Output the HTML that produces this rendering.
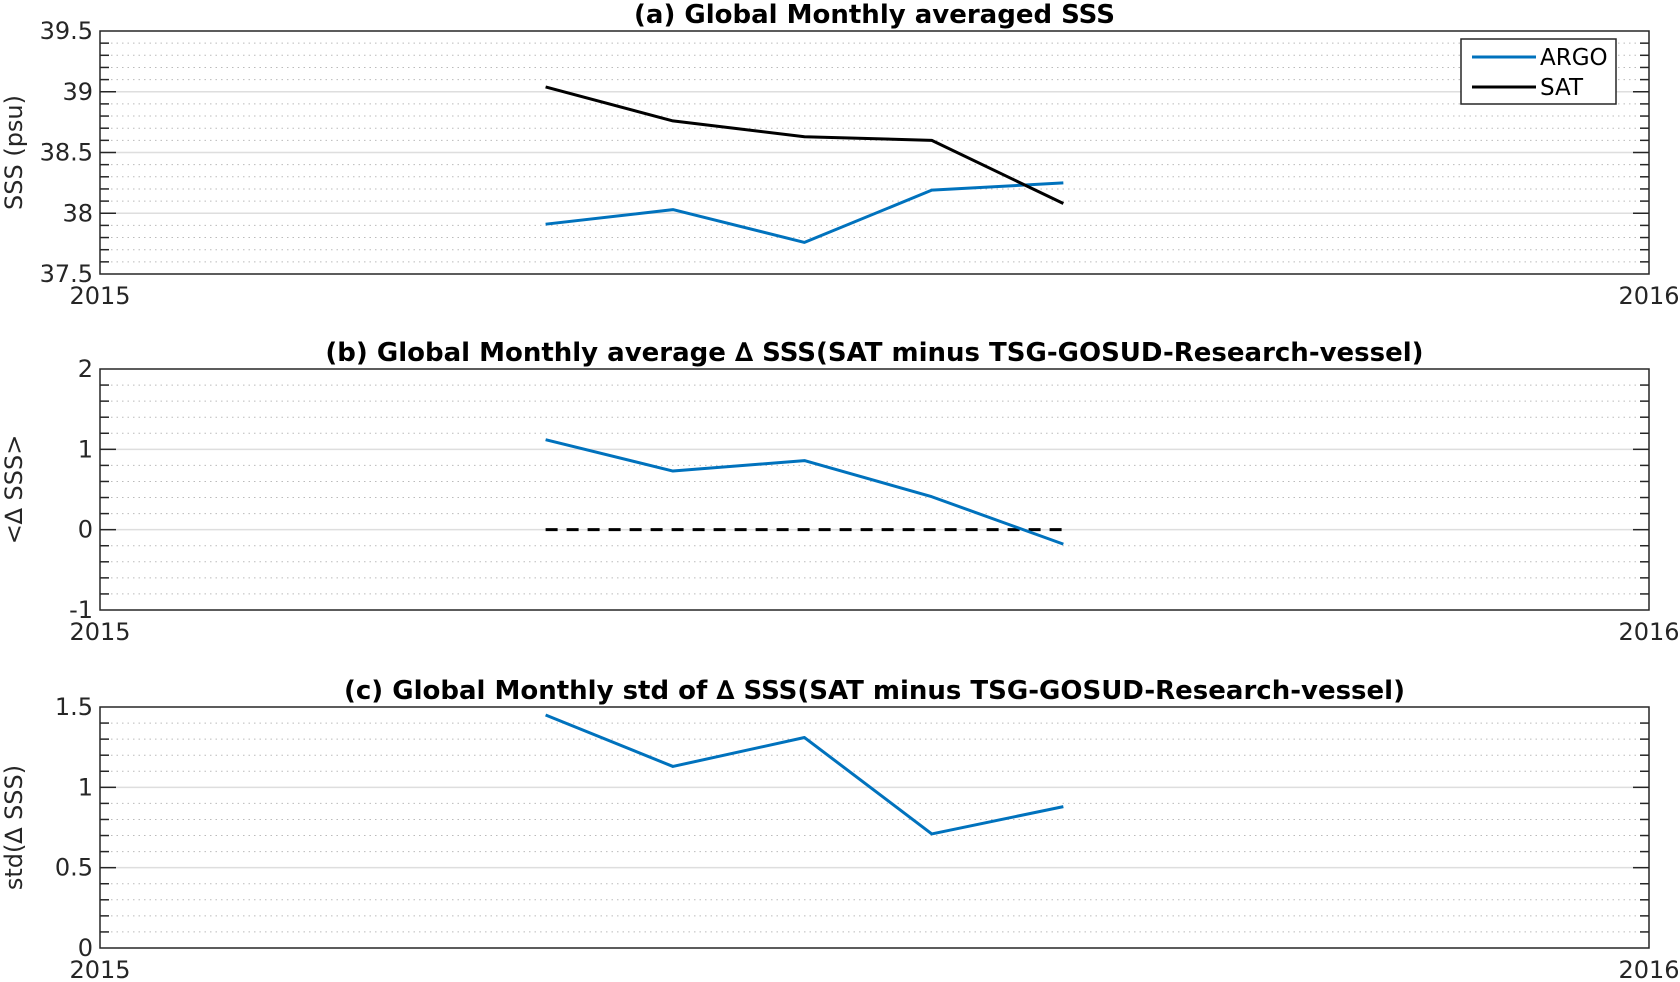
<!DOCTYPE html>
<html><head><meta charset="utf-8"><style>
html,body{margin:0;padding:0;background:#fff;}
svg{display:block;font-family:"DejaVu Sans","Liberation Sans",sans-serif;}
</style></head><body>
<svg id="fig" width="1680" height="982" viewBox="0 0 1680 982"></svg>
<script>
const days = [105, 135, 166, 196, 227];
const argoSSS = [37.91, 38.03, 37.76, 38.19, 38.25];
const satSSS = [39.04, 38.76, 38.63, 38.60, 38.08];
const deltaSSS = [1.12, 0.73, 0.86, 0.41, -0.18];
const zeroRef = [0, 0, 0, 0, 0];
const stdSSS = [1.45, 1.13, 1.31, 0.71, 0.88];
const ticksA = [37.5, 38, 38.5, 39, 39.5];
const labelsA = ["37.5", "38", "38.5", "39", "39.5"];
const ticksB = [-1, 0, 1, 2];
const labelsB = ["-1", "0", "1", "2"];
const ticksC = [0, 0.5, 1, 1.5];
const labelsC = ["0", "0.5", "1", "1.5"];
const xLabels = ["2015", "2016"];

const NS = "http://www.w3.org/2000/svg";
const svg = document.getElementById('fig');
const L = 100, R = 1649, XMAX = 365;
function mk(tag, attrs, parent) {
  const e = document.createElementNS(NS, tag);
  for (const k in attrs) e.setAttribute(k, attrs[k]);
  (parent || svg).appendChild(e);
  return e;
}
function xs(d) { return L + d / XMAX * (R - L); }

function panel(opt) {
  const g = mk('g', {});
  
  
  const ys = v => opt.bot - (v - opt.min) / (opt.max - opt.min) * (opt.bot - opt.top);
  for (let v = opt.min + opt.minor; v < opt.max - 1e-9; v += opt.minor) {
    const isMajor = opt.ticks.some(t => Math.abs(t - v) < 1e-6);
    const y = ys(v);
    if (isMajor) {
      const l = mk('line', {x1: L, x2: R, y1: y, y2: y, stroke: '#dedede', 'stroke-width': 1.5}, g);
      
      
      mk('line', {x1: L, x2: L + 16, y1: y, y2: y, stroke: '#262626', 'stroke-width': 1.5}, g);
      mk('line', {x1: R - 16, x2: R, y1: y, y2: y, stroke: '#262626', 'stroke-width': 1.5}, g);
    } else {
      const l = mk('line', {x1: L, x2: R, y1: y, y2: y, stroke: '#bbb', 'stroke-width': 1, 'stroke-dasharray': '1.5,4'}, g);
      
      
      mk('line', {x1: L, x2: L + 9, y1: y, y2: y, stroke: '#262626', 'stroke-width': 1.5}, g);
      mk('line', {x1: R - 9, x2: R, y1: y, y2: y, stroke: '#262626', 'stroke-width': 1.5}, g);
    }
  }
  opt.ticks.forEach((t, i) => {
    const tx = mk('text', {x: L - 7, y: ys(t) + 8, 'text-anchor': 'end', 'font-size': 24, fill: '#262626'}, g);
    tx.textContent = opt.labels[i];
    
    
  });
  xLabels.forEach((lab, i) => {
    const tx = mk('text', {x: i === 0 ? L : R, y: opt.bot + 30, 'text-anchor': 'middle', 'font-size': 24, fill: '#262626'}, g);
    tx.textContent = lab;
    
    
  });
  opt.series.forEach(s => {
    const pts = s.vals.map((v, i) => xs(days[i]) + ',' + ys(v)).join(' ');
    const p = mk('polyline', {points: pts, fill: 'none', stroke: s.color, 'stroke-width': 3, 'stroke-linejoin': 'round'}, g);
    if (s.dash) p.setAttribute('stroke-dasharray', '12,9');
    
    
  });
  const box = mk('rect', {x: L, y: opt.top, width: R - L, height: opt.bot - opt.top, fill: 'none', stroke: '#262626', 'stroke-width': 1.5}, g);
  
  
  const ti = mk('text', {x: (L + R) / 2, y: opt.top - 8, 'text-anchor': 'middle', 'font-size': 26, 'font-weight': 'bold', fill: '#000'}, g);
  ti.textContent = opt.title;
  
  
  const cy = (opt.top + opt.bot) / 2;
  const yl = mk('text', {x: 0, y: 0, 'text-anchor': 'middle', 'font-size': 24, fill: '#262626', transform: 'translate(22,' + cy + ') rotate(-90)'}, g);
  yl.textContent = opt.ylabel;
  
  
}

panel({name: 'panel-a', top: 31, bot: 274, min: 37.5, max: 39.5, minor: 0.1, ticks: ticksA, labels: labelsA,
  title: '(a) Global Monthly averaged SSS', ylabel: 'SSS (psu)',
  series: [{vals: argoSSS, color: '#0072bd', name: 'argo-line'}, {vals: satSSS, color: '#000', name: 'sat-line'}]});
panel({name: 'panel-b', top: 369, bot: 610, min: -1, max: 2, minor: 0.2, ticks: ticksB, labels: labelsB,
  title: '(b) Global Monthly average \u2206 SSS(SAT minus TSG-GOSUD-Research-vessel)', ylabel: '<\u2206 SSS>',
  series: [{vals: zeroRef, color: '#000', name: 'zero-reference-line', dash: true}, {vals: deltaSSS, color: '#0072bd', name: 'delta-sss-line'}]});
panel({name: 'panel-c', top: 707, bot: 948, min: 0, max: 1.5, minor: 0.1, ticks: ticksC, labels: labelsC,
  title: '(c) Global Monthly std of \u2206 SSS(SAT minus TSG-GOSUD-Research-vessel)', ylabel: 'std(\u2206 SSS)',
  series: [{vals: stdSSS, color: '#0072bd', name: 'std-sss-line'}]});

const lg = mk('g', {});


mk('rect', {x: 1461, y: 39, width: 155, height: 65, fill: '#fff', stroke: '#262626', 'stroke-width': 1.5}, lg);
[['ARGO', '#0072bd', 57], ['SAT', '#000', 87]].forEach(e => {
  const ln = mk('line', {x1: 1472, x2: 1536, y1: e[2], y2: e[2], stroke: e[1], 'stroke-width': 3}, lg);
  
  
  const t = mk('text', {x: 1540, y: e[2] + 8, 'font-size': 23, fill: '#000'}, lg);
  t.textContent = e[0];
  
  
});
</script>
</body></html>
